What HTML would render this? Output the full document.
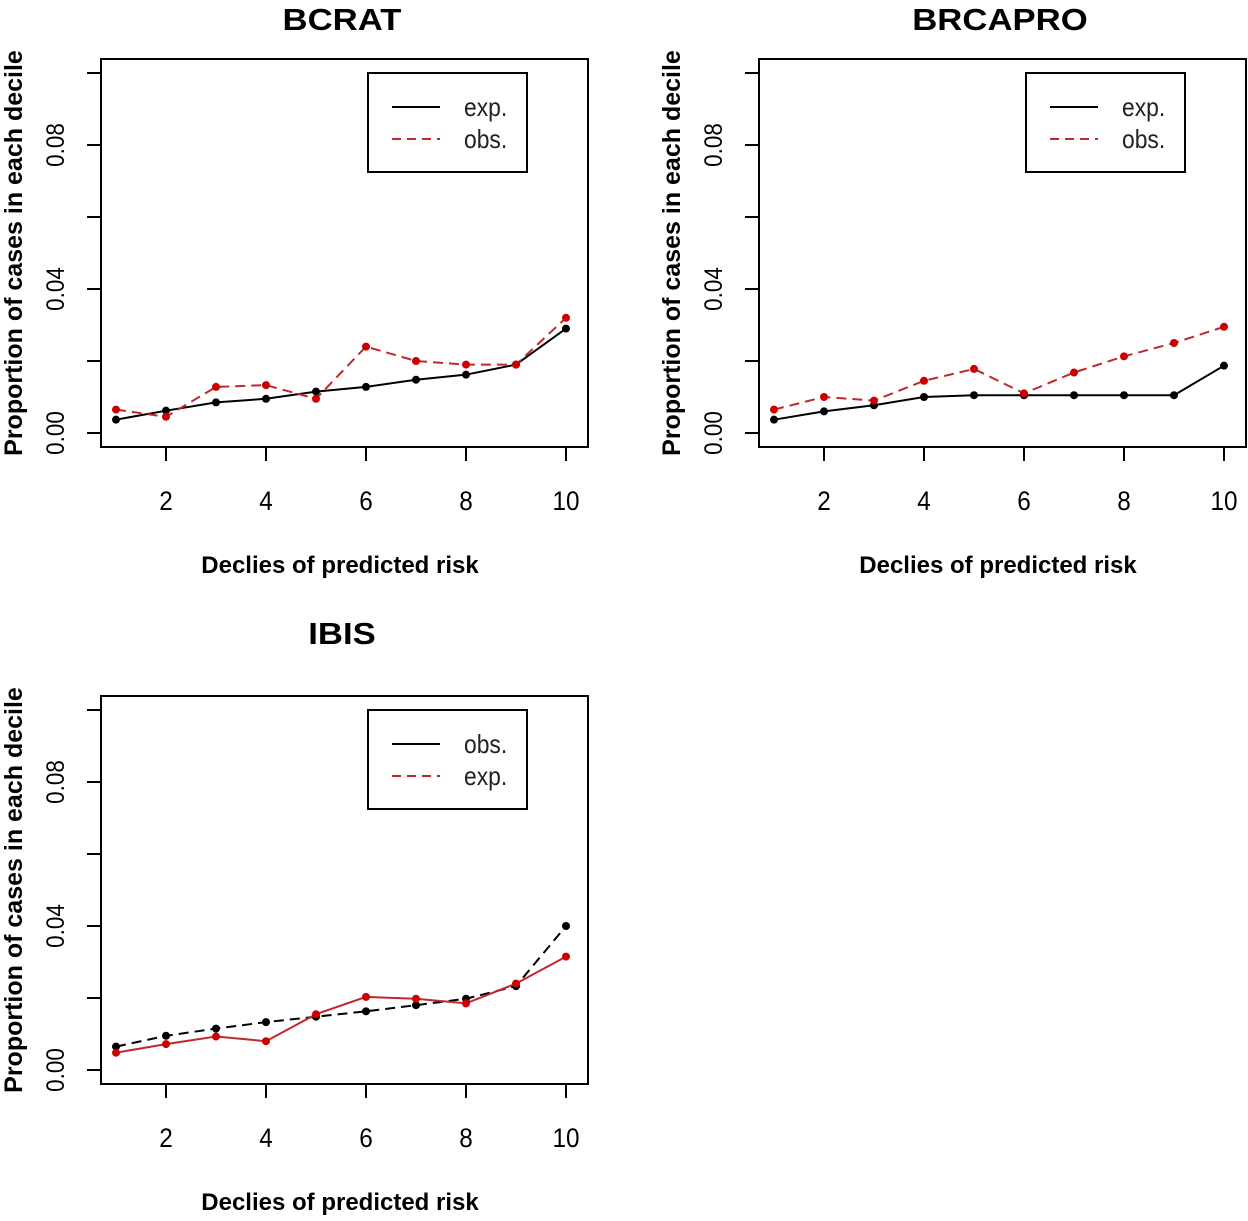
<!DOCTYPE html>
<html><head><meta charset="utf-8"><style>
body{margin:0;background:#fff}
svg{display:block;font-family:"Liberation Sans",sans-serif}
</style></head><body>
<svg id="svg" width="1248" height="1221" viewBox="0 0 1248 1221"></svg>
<script>
const deciles=[1,2,3,4,5,6,7,8,9,10];
const yTicks=[0,0.02,0.04,0.06,0.08,0.10];
const yTickLabels=["0.00","","0.04","","0.08",""];
const xTicks=[2,4,6,8,10];
const bcratExp=[0.0037,0.0062,0.0085,0.0095,0.0115,0.0128,0.0148,0.0162,0.019,0.029];
const bcratObs=[0.0065,0.0045,0.0128,0.0133,0.0095,0.024,0.020,0.019,0.019,0.032];
const brcaproExp=[0.0037,0.006,0.0077,0.010,0.0105,0.0105,0.0105,0.0105,0.0105,0.0187];
const brcaproObs=[0.0065,0.010,0.009,0.0145,0.0178,0.011,0.0168,0.0213,0.025,0.0295];
const ibisObs=[0.0065,0.0095,0.0115,0.0133,0.0148,0.0163,0.018,0.0198,0.0233,0.040];
const ibisExp=[0.0048,0.0072,0.0093,0.008,0.0155,0.0203,0.0198,0.0185,0.024,0.0315];

const svg=document.getElementById('svg');
const NS='http://www.w3.org/2000/svg';
function mk(tag,attrs,parent,text){const e=document.createElementNS(NS,tag);for(const k in attrs)e.setAttribute(k,attrs[k]);if(text!==undefined)e.textContent=text;parent.appendChild(e);return e;}

function panel(name,title,ox,oy,titleY,series,legend){
  const g=mk('g',{},svg);
  
  
  const L=101+ox,R=588+ox,T=59+oy,B=447+oy;
  const xs=v=>116+ox+(v-1)*50;
  const ys=v=>433+oy-v*3600;
  const t=mk('text',{x:342+ox,y:titleY,'font-size':31,'font-weight':'bold','text-anchor':'middle',transform:`translate(${342+ox},0) scale(1.12,1) translate(${-(342+ox)},0)`},g,title);
  
  
  const box=mk('rect',{x:L,y:T,width:R-L,height:B-T,fill:'none',stroke:'#000','stroke-width':2},g);
  
  
  yTicks.forEach((v,i)=>{
    mk('line',{x1:L-14,x2:L,y1:ys(v),y2:ys(v),stroke:'#000','stroke-width':2},g);
    if(yTickLabels[i]){const tl=mk('text',{x:0,y:0,'font-size':25,'text-anchor':'middle',transform:`translate(${L-37},${ys(v)}) rotate(-90) scale(0.9,1)`},g,yTickLabels[i]);
      
      }
  });
  xTicks.forEach(v=>{
    mk('line',{x1:xs(v),x2:xs(v),y1:B,y2:B+14,stroke:'#000','stroke-width':2},g);
    const tl=mk('text',{x:0,y:0,'font-size':27,'text-anchor':'middle',transform:`translate(${xs(v)},${B+63}) scale(0.9,1)`},g,String(v));
    
    
  });
  const xl=mk('text',{x:340+ox,y:573+oy,'font-size':24,'font-weight':'bold','text-anchor':'middle'},g,'Declies of predicted risk');
  
  
  const yl=mk('text',{x:0,y:0,'font-size':25,'font-weight':'bold','text-anchor':'middle',transform:`translate(${22+ox},${253+oy}) rotate(-90)`},g,'Proportion of cases in each decile');
  
  
  series.forEach(s=>{
    const pts=s.vals.map((v,i)=>xs(deciles[i])+','+ys(v)).join(' ');
    const pl=mk('polyline',{points:pts,fill:'none',stroke:s.color,'stroke-width':2,'stroke-dasharray':s.dash?'10,6':'none'},g);
    
    
    s.vals.forEach((v,i)=>{
      const c=mk('circle',{cx:xs(deciles[i]),cy:ys(v),r:4,fill:s.dot},g);
      
      
    });
  });
  const lg=mk('g',{},g);
  
  
  const lx=368+ox,ly=73+oy;
  mk('rect',{x:lx,y:ly,width:159,height:99,fill:'#fff',stroke:'#000','stroke-width':2},lg);
  legend.forEach((e,i)=>{
    const yy=ly+34+i*32;
    mk('line',{x1:lx+24,x2:lx+72,y1:yy,y2:yy,stroke:e.color,'stroke-width':2,'stroke-dasharray':e.dash?'9,6':'none'},lg);
    const lt=mk('text',{x:0,y:0,'font-size':26,fill:'#222',transform:`translate(${lx+96},${yy+9}) scale(0.88,1)`},lg,e.label);
    
    
  });
}
panel('bcrat','BCRAT',0,0,30,[
  {name:'bcrat-exp',vals:bcratExp,color:'#000',dot:'#000',dash:false},
  {name:'bcrat-obs',vals:bcratObs,color:'#c0282d',dot:'#c00',dash:true}],
  [{label:'exp.',color:'#000',dash:false},{label:'obs.',color:'#c0282d',dash:true}]);
panel('brcapro','BRCAPRO',658,0,30,[
  {name:'brcapro-exp',vals:brcaproExp,color:'#000',dot:'#000',dash:false},
  {name:'brcapro-obs',vals:brcaproObs,color:'#c0282d',dot:'#c00',dash:true}],
  [{label:'exp.',color:'#000',dash:false},{label:'obs.',color:'#c0282d',dash:true}]);
panel('ibis','IBIS',0,637,644,[
  {name:'ibis-obs',vals:ibisObs,color:'#000',dot:'#000',dash:true},
  {name:'ibis-exp',vals:ibisExp,color:'#c0282d',dot:'#c00',dash:false}],
  [{label:'obs.',color:'#000',dash:false},{label:'exp.',color:'#c0282d',dash:true}]);
</script>
</body></html>
